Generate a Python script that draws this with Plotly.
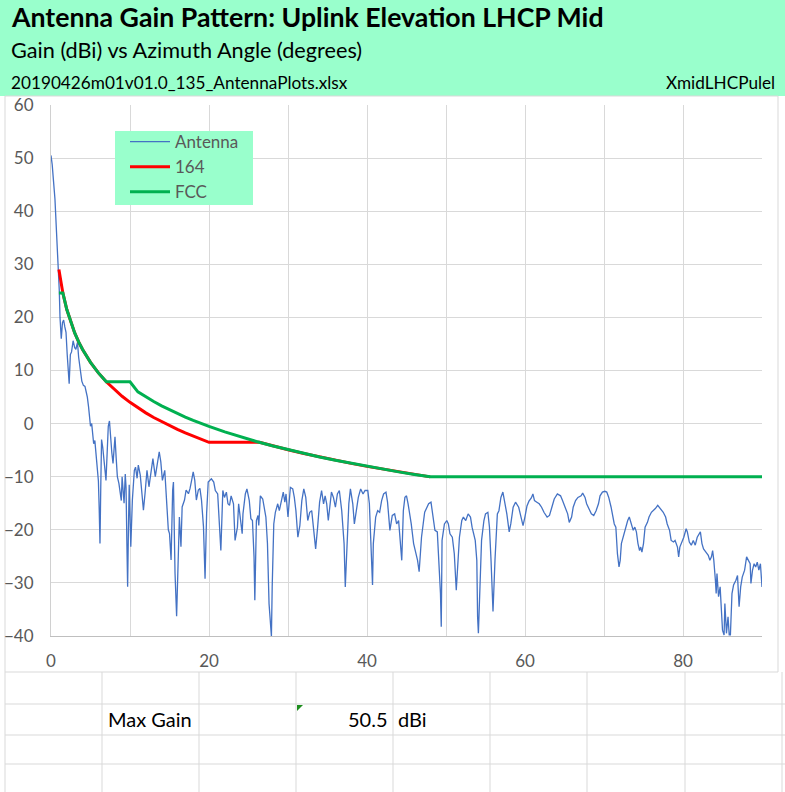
import plotly.graph_objects as go

# ---------------- data ----------------
antenna_angle = [
    0.0, 0.15, 0.3, 0.5, 0.7, 0.9, 1.05, 1.14, 1.22, 1.3, 1.45, 1.6, 1.75, 1.9, 2.05, 2.2, 2.3, 2.45, 2.6, 2.8,
    3.0, 3.15, 3.35, 3.5, 3.67, 3.9, 4.1, 4.3, 4.45, 4.6, 4.75, 4.9, 5.0, 5.15, 5.3, 5.4, 5.55, 5.7, 5.8, 6.0,
    6.1, 6.2, 6.3, 6.4, 6.55, 6.7, 6.85, 6.96, 7.1, 7.25, 7.4, 7.55, 7.7, 7.85, 8.0, 8.1, 8.25, 8.4, 8.6, 8.75,
    8.9, 9.0, 9.15, 9.25, 9.4, 9.5, 9.6, 9.7, 9.8, 9.9, 10.1, 10.3,
    10.55, 10.7, 10.9, 11.05, 11.3, 11.5, 11.7, 11.9, 12.15, 12.4, 12.7, 12.9, 13.2, 13.4, 13.7, 13.9, 14.1, 14.4,
    14.7, 14.85, 15.0, 15.2, 15.4, 15.5, 15.7, 15.9, 16.1, 16.25, 16.45, 16.6, 16.9, 17.1, 17.4, 17.6, 17.8, 18.0,
    18.2, 18.4, 18.65, 18.85, 19.05, 19.3, 19.5, 19.7, 19.9, 20.1, 20.3,
    20.6, 20.8, 21.1, 21.3, 21.5, 21.75, 21.96, 22.2, 22.4, 22.6, 22.8, 23.1, 23.3, 23.6, 23.75, 24.0, 24.2, 24.3,
    24.6, 24.8, 25.1, 25.3, 25.5, 25.7, 25.8, 26.0, 26.2, 26.3, 26.5, 26.8, 27.2, 27.4, 27.6, 27.75, 27.9, 28.0,
    28.2, 28.4, 28.7, 28.9, 29.2, 29.4, 29.6, 29.75, 30.0, 30.3, 30.6, 30.8, 31.0, 31.25, 31.5, 31.75, 32.0, 32.25,
    32.5, 32.75, 33.0, 33.2, 33.5, 33.75, 34.0, 34.25, 34.5, 34.7, 34.9, 35.1, 35.3, 35.5, 35.75, 36.0, 36.25, 36.5,
    36.8, 37.1, 37.25, 37.5, 37.7, 37.9, 38.2, 38.4, 38.7, 38.9, 39.2, 39.5, 39.75,
    40.1, 40.3, 40.5, 40.7, 40.8, 41.1, 41.35, 41.6, 41.85, 42.1, 42.4, 42.6, 42.9, 43.2, 43.5, 43.75, 44.0, 44.2,
    44.4, 44.6, 44.8, 45.0, 45.2, 45.6, 45.9, 46.2, 46.4, 46.6, 46.9, 47.3, 47.55, 47.8, 48.1, 48.4, 48.6, 48.9,
    49.1, 49.3, 49.4, 49.5, 49.8, 50.1, 50.3, 50.5, 50.8, 51.05, 51.3, 51.5, 51.7, 52.0, 52.2, 52.5, 52.8, 53.1,
    53.3, 53.7, 53.9, 54.0, 54.1, 54.3, 54.5, 54.8, 55.0, 55.3, 55.5, 55.7, 55.95, 56.2, 56.5, 56.7, 56.95, 57.2,
    57.5, 57.7, 58.0, 58.2, 58.5, 58.8, 59.2, 59.45, 59.75, 60.0, 60.25, 60.5,
    60.8, 61.0, 61.2, 61.5, 61.8, 62.1, 62.4, 62.8, 63.1, 63.4, 63.7, 64.1, 64.5, 64.75, 65.05, 65.4, 65.6, 65.9,
    66.1, 66.4, 66.7, 67.1, 67.3, 67.6, 67.8, 68.1, 68.4, 68.7, 69.0, 69.3, 69.5, 69.8, 70.1, 70.35, 70.6, 70.9,
    71.1, 71.3, 71.5, 71.7, 71.9, 72.05, 72.2, 72.5, 72.7, 73.0, 73.2, 73.4, 73.7, 73.9, 74.1, 74.3, 74.5, 74.65,
    74.8, 75.0, 75.2, 75.5, 75.7, 76.0, 76.25, 76.5, 76.8, 77.0, 77.3, 77.5, 77.8, 78.0, 78.3, 78.5, 78.8, 79.0,
    79.3, 79.45, 79.6, 79.9, 80.1, 80.4, 80.55, 80.8, 81.05, 81.3, 81.55, 81.8, 82.0, 82.2, 82.4, 82.6, 82.9, 83.2,
    83.4, 83.6, 83.75, 83.9, 84.1, 84.2, 84.3, 84.5, 84.7, 84.8, 85.0, 85.2, 85.3, 85.5, 85.7, 85.85, 86.0, 86.2,
    86.4, 86.7, 86.9, 87.1, 87.3, 87.5, 87.8, 88.05, 88.3, 88.5, 88.6, 88.8, 89.0, 89.2, 89.4, 89.6, 89.8, 90.0,
]
antenna_gain = [
    50.5, 48.8, 46.0, 42.3, 36.0, 30.5, 25.0, 20.0, 16.5, 16.0, 19.0, 19.5, 18.2, 17.2, 13.0, 8.0, 7.5, 13.0, 13.5, 15.6,
    14.3, 14.0, 15.3, 12.5, 10.0, 8.0, 7.2, 7.0, 6.0, 5.0, 3.2, 0.5, -0.5, 0.0, -2.5, -3.8, -3.2, -6.0, -8.5, -10.8,
    -16.0, -22.6, -12.0, -3.0, -4.5, -6.3, -9.0, -10.7, -5.0, -0.5, 0.5, -3.0, -5.5, -7.5, -3.0, -2.5, -6.5, -10.0, -11.3, -13.0,
    -14.5, -10.0, -13.0, -15.0, -9.5, -12.0, -22.0, -30.7, -20.0, -11.5, -23.2, -14.4,
    -8.8, -8.2, -10.3, -7.8, -9.7, -13.8, -16.3, -13.2, -8.8, -11.9, -8.2, -6.6, -10.0, -7.8, -5.3, -7.2, -10.7, -8.8,
    -15.0, -20.0, -20.7, -25.7, -12.5, -11.0, -28.2, -36.3, -25.7, -17.6, -23.2, -15.7, -14.4, -12.5, -13.2, -12.2, -10.7, -9.1,
    -10.7, -14.4, -12.5, -12.2, -14.4, -19.4, -29.2, -16.9, -11.0, -10.75, -10.4,
    -11.0, -12.6, -13.25, -19.5, -23.9, -12.6, -13.9, -12.9, -15.1, -15.4, -13.6, -15.1, -22.0, -19.5, -15.1, -18.25, -20.75, -17.0,
    -13.25, -12.3, -14.5, -17.9, -18.25, -25.1, -33.25, -18.25, -17.3, -19.2, -13.6, -14.2, -17.6, -22.6, -33.9, -37.0, -40.1, -30.75,
    -18.9, -16.7, -15.1, -16.4, -13.9, -12.9, -14.8, -13.25, -17.6, -12.0, -12.3, -13.9, -16.4, -21.4, -19.2, -14.5, -12.3, -13.9,
    -18.25, -16.7, -16.4, -19.5, -23.6, -19.5, -14.8, -12.6, -15.1, -13.6, -15.1, -18.25, -15.1, -12.9, -13.9, -15.75, -13.25, -12.6,
    -16.4, -22.6, -30.75, -22.6, -15.1, -12.3, -15.1, -18.9, -16.0, -13.9, -12.3, -13.25, -12.6,
    -12.6, -15.1, -22.0, -30.4, -22.6, -17.6, -16.4, -16.7, -14.5, -13.25, -12.9, -14.8, -20.1, -17.3, -17.0, -18.9, -18.25, -22.0,
    -25.75, -16.4, -13.9, -13.6, -15.1, -18.9, -22.6, -24.5, -25.75, -27.9, -21.4, -16.7, -15.75, -15.1, -14.8, -17.9, -20.1, -20.4,
    -25.75, -32.0, -38.25, -22.0, -18.9, -18.25, -18.9, -20.75, -21.4, -24.5, -31.4, -25.75, -21.4, -18.25, -17.6, -18.25, -17.0, -17.6,
    -19.5, -22.0, -25.75, -36.4, -39.5, -30.75, -22.0, -18.25, -17.0, -16.7, -19.5, -25.75, -35.4, -25.75, -17.0, -16.4, -13.9, -12.9,
    -15.1, -17.0, -20.4, -18.9, -15.75, -14.8, -15.75, -17.5, -19.2, -17.5, -15.5, -14.6,
    -14.0, -13.25, -14.5, -14.8, -15.1, -15.75, -16.7, -17.6, -17.3, -15.75, -14.2, -13.25, -13.6, -14.5, -15.75, -17.0, -18.6, -17.6,
    -15.75, -14.5, -13.9, -13.6, -13.1, -13.9, -15.1, -16.0, -17.0, -17.3, -16.4, -15.1, -13.6, -12.9, -12.75, -12.9, -13.9, -15.75,
    -17.6, -18.9, -19.5, -24.5, -27.0, -25.75, -22.6, -20.75, -19.5, -18.25, -17.6, -18.6, -20.1, -19.5, -20.4, -22.6, -23.9, -23.25,
    -24.2, -22.6, -19.5, -18.6, -17.6, -16.7, -16.4, -16.0, -15.4, -15.75, -16.4, -16.7, -17.6, -18.9, -20.1, -22.0, -22.3, -22.0,
    -23.25, -25.1, -23.25, -22.3, -21.4, -19.8, -20.4, -22.3, -22.9, -22.0, -22.9, -21.4, -20.75, -20.4, -22.6, -23.6, -24.2, -24.8,
    -25.75, -25.1, -23.9, -25.75, -29.5, -32.0, -28.25, -32.6, -30.75, -34.5, -38.9, -39.8, -33.9, -39.5, -36.4, -39.8, -39.8, -32.0,
    -30.4, -29.5, -28.6, -34.5, -30.75, -28.9, -27.6, -25.1, -25.75, -26.4, -30.1, -27.6, -26.4, -27.0, -26.1, -27.6, -26.4, -30.75,
]

mask164_angle = [1, 1.5, 2, 2.5, 3, 3.5, 4, 5, 6, 7, 8, 9, 10, 11, 12, 13, 14, 15, 16, 17, 18, 19, 20,
                 26.4, 28, 30, 32, 34, 36, 38, 40, 42, 44, 46, 48]
mask164_gain = [29.0, 24.6, 21.47, 19.05, 17.07, 15.4, 13.95, 11.53, 9.55, 7.87, 6.42, 5.14, 4.0, 2.97, 2.02,
                1.15, 0.35, -0.4, -1.1, -1.76, -2.38, -2.97, -3.53,
                -3.53, -4.18, -4.93, -5.63, -6.29, -6.91, -7.49, -8.05, -8.58, -9.09, -9.57, -10.03]

fcc_angle = [1, 1.5, 2, 2.5, 3, 3.5, 4, 5, 6, 7, 8, 9, 10, 11, 12, 13, 14, 15, 16, 17, 18, 19, 20,
             22, 24, 26, 28, 30, 32, 34, 36, 38, 40, 42, 44, 46, 48, 90]
fcc_gain = [24.6, 24.6, 21.47, 19.05, 17.07, 15.4, 13.95, 11.53, 9.55, 7.87, 7.87, 7.87, 7.87, 5.97, 5.02,
            4.15, 3.35, 2.6, 1.9, 1.24, 0.62, 0.03, -0.53,
            -1.56, -2.5, -3.37, -4.18, -4.93, -5.63, -6.29, -6.91, -7.49, -8.05, -8.58, -9.09, -9.57, -10.0, -10.0]

x_ticks = [0, 10, 20, 30, 40, 50, 60, 70, 80, 90]
x_tick_text = ["0", "", "20", "", "40", "", "60", "", "80", ""]

title_text = "Antenna Gain Pattern: Uplink Elevation LHCP Mid"
subtitle_text = "Gain (dBi) vs Azimuth Angle (degrees)"
file_text = "20190426m01v01.0_135_AntennaPlots.xlsx"
sheet_text = "XmidLHCPulel"
max_gain_label = "Max Gain"
max_gain_value = "50.5"
max_gain_unit = "dBi"

# ---------------- layout helpers ----------------
W, H = 785, 792
L, R, T, B = 51, 762, 105, 636
FONT = "Lato"
MINT = "#99FFCC"


def px(x):
    return (x - L) / (R - L)


def py(y):
    return (B - y) / (B - T)


fig = go.Figure()
fig.add_trace(go.Scatter(x=antenna_angle, y=antenna_gain, mode="lines", name="Antenna",
                         line=dict(color="#4472C4", width=1.3), legendgroup="a"))
fig.add_trace(go.Scatter(x=mask164_angle, y=mask164_gain, mode="lines", name="164",
                         line=dict(color="#FF0000", width=3), legendgroup="b"))
fig.add_trace(go.Scatter(x=fcc_angle, y=fcc_gain, mode="lines", name="FCC",
                         line=dict(color="#00B050", width=3), legendgroup="c"))

shapes = []
# header band
shapes.append(dict(type="rect", xref="paper", yref="paper", x0=px(0), x1=px(W), y0=py(96), y1=py(0),
                   fillcolor=MINT, line=dict(width=0), layer="below"))
# chart border
shapes.append(dict(type="rect", xref="paper", yref="paper", x0=px(5), x1=px(778), y0=py(672), y1=py(96),
                   fillcolor="rgba(0,0,0,0)", line=dict(color="#D9D9D9", width=1), layer="below"))
# spreadsheet grid lines
for yy in [704, 735, 764]:
    shapes.append(dict(type="line", xref="paper", yref="paper", x0=px(5), x1=px(W), y0=py(yy), y1=py(yy),
                       line=dict(color="#D9D9D9", width=1)))
for xx in [102, 199, 296, 393, 490, 587, 685, 782]:
    shapes.append(dict(type="line", xref="paper", yref="paper", x0=px(xx), x1=px(xx), y0=py(672), y1=py(H),
                       line=dict(color="#D9D9D9", width=1)))
shapes.append(dict(type="line", xref="paper", yref="paper", x0=px(5), x1=px(5), y0=py(672), y1=py(H),
                   line=dict(color="#D9D9D9", width=1)))
# legend box
shapes.append(dict(type="rect", xref="paper", yref="paper", x0=px(115), x1=px(253), y0=py(205), y1=py(131),
                   fillcolor=MINT, line=dict(width=0), layer="above"))
# green comment marker
tri = "M {} {} L {} {} L {} {} Z".format(px(297), py(705), px(303), py(705), px(297), py(711))
shapes.append(dict(type="path", xref="paper", yref="paper", path=tri, fillcolor="#1E8E1E",
                   line=dict(width=0)))

annotations = [
    dict(text="<b>" + title_text + "</b>", x=px(9), y=py(17), xanchor="left", yanchor="middle",
         font=dict(family=FONT, size=26.7, color="#000000")),
    dict(text=subtitle_text, x=px(9), y=py(50), xanchor="left", yanchor="middle",
         font=dict(family=FONT, size=21.7, color="#000000")),
    dict(text=file_text, x=px(9), y=py(82), xanchor="left", yanchor="middle",
         font=dict(family=FONT, size=17.2, color="#000000")),
    dict(text=sheet_text, x=px(777), y=py(82), xanchor="right", yanchor="middle",
         font=dict(family=FONT, size=17.2, color="#000000")),
    dict(text=max_gain_label, x=px(106), y=py(719), xanchor="left", yanchor="middle",
         font=dict(family=FONT, size=20, color="#000000")),
    dict(text=max_gain_value, x=px(390), y=py(719), xanchor="right", yanchor="middle",
         font=dict(family=FONT, size=20, color="#000000")),
    dict(text=max_gain_unit, x=px(396), y=py(719), xanchor="left", yanchor="middle",
         font=dict(family=FONT, size=20, color="#000000")),
]
for a in annotations:
    a.update(xref="paper", yref="paper", showarrow=False)

fig.update_layout(
    width=W, height=H, autosize=False,
    margin=dict(l=L, r=W - R, t=T, b=H - B, pad=0, autoexpand=False),
    paper_bgcolor="white", plot_bgcolor="white",
    shapes=shapes, annotations=annotations,
    showlegend=True,
    legend=dict(x=px(125), y=py(124), xanchor="left", yanchor="top", bgcolor="rgba(0,0,0,0)",
                font=dict(family=FONT, size=17, color="#595959"), tracegroupgap=0,
                itemwidth=40),
    xaxis=dict(range=[0, 90], tickvals=x_ticks, ticktext=x_tick_text, showgrid=True, automargin=False,
               gridcolor="#D9D9D9", gridwidth=1, showline=True, linecolor="#BFBFBF", linewidth=1,
               zeroline=False, ticks="outside", ticklen=10, tickcolor="rgba(0,0,0,0)",
               tickfont=dict(family=FONT, size=17, color="#595959")),
    yaxis=dict(range=[-40, 60], dtick=10, showgrid=True, gridcolor="#D9D9D9", gridwidth=1, automargin=False,
               showline=True, linecolor="#D0D0D0", linewidth=1, zeroline=False,
               ticks="outside", ticklen=13, tickcolor="rgba(0,0,0,0)",
               tickfont=dict(family=FONT, size=17, color="#595959")),
)

fig.write_html("out.html", config={"displayModeBar": False},
               post_script="document.body.style.margin='0';document.body.style.overflow='hidden';")
